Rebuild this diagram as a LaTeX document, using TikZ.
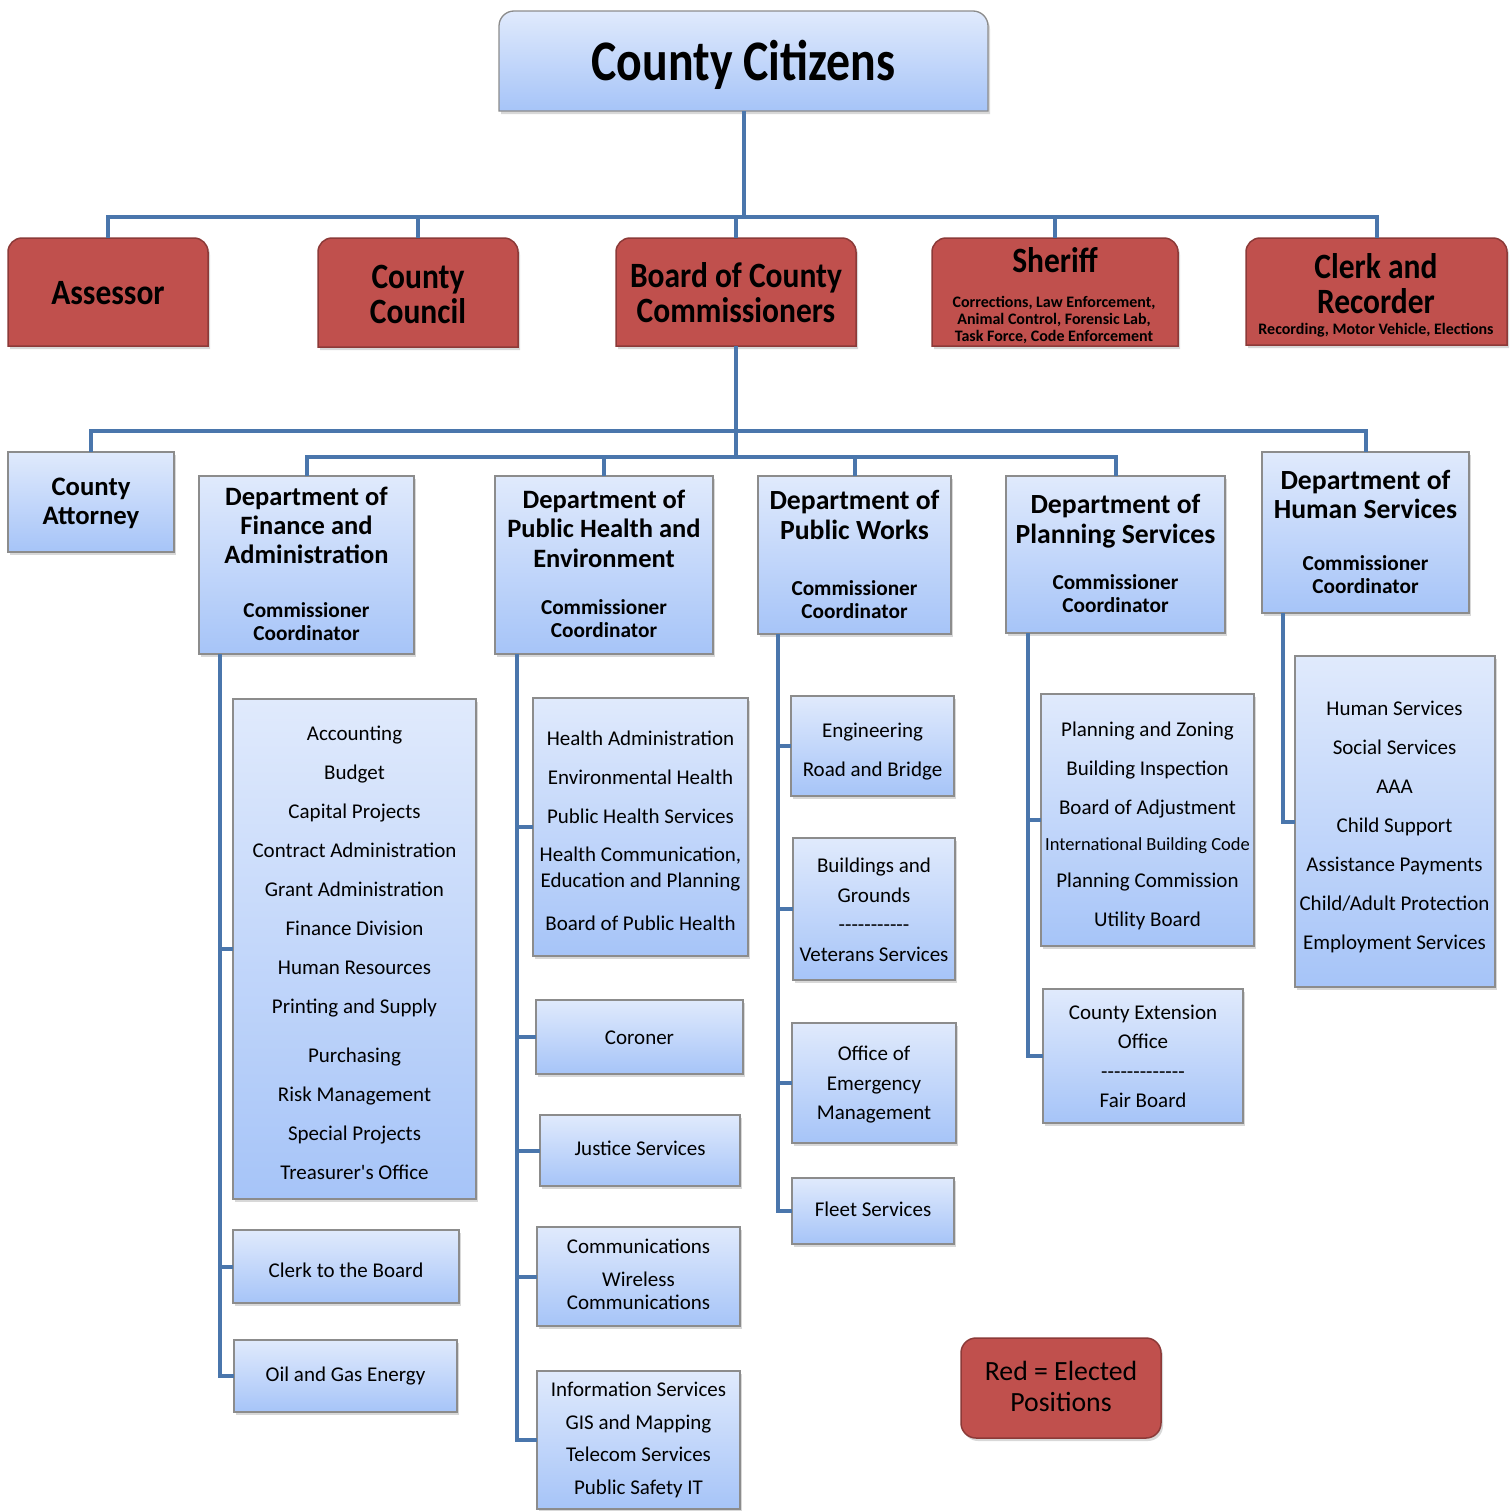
\documentclass[tikz,border=0pt]{standalone}
\usepackage{fontspec}
\usepackage{graphicx}
\setmainfont{Carlito}
\usetikzlibrary{shadows}
\definecolor{btop}{HTML}{E0EAFC}
\definecolor{bbot}{HTML}{A6C4F8}
\definecolor{bline}{HTML}{8C8C8C}
\definecolor{rfill}{HTML}{C0504D}
\definecolor{rline}{HTML}{8C3A38}
\definecolor{conncol}{HTML}{4A76AC}
\tikzset{
  shad/.style={drop shadow={opacity=0.3, shadow xshift=2pt, shadow yshift=-3pt}},
  bluebox/.style={rectangle, inner sep=0pt, outer sep=0pt, draw=bline, line width=1.3pt, top color=btop, bottom color=bbot, shad},
  ghost/.style={rectangle, inner sep=0pt, outer sep=0pt},
  redpath/.style={fill=rfill, draw=rline, line width=1.5pt, shad},
  bluepath/.style={draw=bline, line width=1.3pt, top color=btop, bottom color=bbot, shad},
  legendbox/.style={rectangle, rounded corners=15pt, inner sep=0pt, outer sep=0pt, fill=rfill, draw=rline, line width=1.5pt, shad},
  conn/.style={draw=conncol, line width=4pt}
}
% box: style, name, x1, y1, x2, y2
\newcommand\bx[6]{\node[#1, minimum width={#5pt-#3pt}, minimum height={#6pt-#4pt}] (#2) at ({(#3+#5)/2},{(#4+#6)/2}) {};}
% text: name, x, first baseline, size, skip, extra font, text
\newcommand\tx[7]{\node[anchor=north, inner sep=0pt, outer sep=0pt, align=center, font={\fontsize{#4}{#5}\selectfont\lineskiplimit=-100pt #6}] (#1) at (#2,{#3-1.2*#4}) {\rule{0pt}{1.2em}#7};}
\newcommand\topround[3]{\path[#2] (#1.south west) -- ([yshift=-#3]#1.north west) arc[start angle=180,end angle=90,radius=#3] -- ([xshift=-#3]#1.north east) arc[start angle=90,end angle=0,radius=#3] -- (#1.south east) -- cycle;}
\newcommand\st[1]{\scalebox{1}[1.13]{#1}}
\newcommand\hy{-{}}
\begin{document}
\begin{tikzpicture}[x=1pt,y=-1pt]
\fill[white] (0,0) rectangle (1512,1510);
\useasboundingbox (0,0) rectangle (1512,1510);

% ---------- boxes ----------
\bx{ghost}{cit}{499}{11}{988}{111}
\topround{cit}{bluepath}{15pt}
\bx{ghost}{ass}{8}{238}{208}{346}
\bx{ghost}{cc}{318}{238}{518}{347}
\bx{ghost}{bcc}{616}{238}{856}{346}
\bx{ghost}{sh}{932}{238}{1178}{346}
\bx{ghost}{clk}{1246}{238}{1507}{345}
\foreach \n in {ass,cc,bcc,sh,clk}{\topround{\n}{redpath}{14pt}}

\bx{bluebox}{att}{8}{452}{174}{552}
\bx{bluebox}{fin}{199}{476}{414}{654}
\bx{bluebox}{ph}{495}{476}{713}{654}
\bx{bluebox}{pw}{758}{476}{951}{634}
\bx{bluebox}{pl}{1006}{476}{1225}{633}
\bx{bluebox}{hs}{1262}{452}{1469}{613}

\bx{bluebox}{fin1}{233}{699}{476}{1199}
\bx{bluebox}{fin2}{233}{1230}{459}{1303}
\bx{bluebox}{fin3}{234}{1340}{457}{1412}
\bx{bluebox}{ph1}{533}{698}{748}{956}
\bx{bluebox}{ph2}{536}{1000}{743}{1074}
\bx{bluebox}{ph3}{540}{1115}{740}{1186}
\bx{bluebox}{ph4}{537}{1227}{740}{1326}
\bx{bluebox}{ph5}{537}{1371}{740}{1509}
\bx{bluebox}{pw1}{791}{696}{954}{796}
\bx{bluebox}{pw2}{793}{838}{955}{980}
\bx{bluebox}{pw3}{792}{1023}{956}{1143}
\bx{bluebox}{pw4}{792}{1178}{954}{1244}
\bx{bluebox}{pl1}{1041}{694}{1254}{946}
\bx{bluebox}{pl2}{1043}{989}{1243}{1123}
\bx{bluebox}{hs1}{1295}{656}{1495}{987}
\bx{legendbox}{leg}{961}{1338}{1161}{1438}

% ---------- connectors ----------
\coordinate (b1) at (743,217);
\coordinate (b2) at (736,431);
\coordinate (b3) at (736,457);
\draw[conn] (cit.south) -- (cit.south |- b1);
\draw[conn] (ass.north) -- (ass.north |- b1) -- (clk.north |- b1) -- (clk.north);
\foreach \n in {cc,bcc,sh}{\draw[conn] (\n.north) -- (\n.north |- b1);}
\draw[conn] (bcc.south) -- (bcc.south |- b3);
\draw[conn] (att.north) -- (att.north |- b2) -- (hs.north |- b2) -- (hs.north);
\draw[conn] (fin.north) -- (fin.north |- b3) -- (pl.north |- b3) -- (pl.north);
\foreach \n in {ph,pw}{\draw[conn] (\n.north) -- (\n.north |- b3);}

\coordinate (fv) at ([xshift=21pt]fin.south west);
\draw[conn] (fv) |- (fin3.west);
\foreach \n in {fin1,fin2}{\draw[conn] (fv |- \n.west) -- (\n.west);}
\coordinate (pv) at ([xshift=22pt]ph.south west);
\draw[conn] (pv) |- (ph5.west);
\foreach \n in {ph1,ph2,ph3,ph4}{\draw[conn] (pv |- \n.west) -- (\n.west);}
\coordinate (wv) at ([xshift=20pt]pw.south west);
\draw[conn] (wv) |- (pw4.west);
\foreach \n in {pw1,pw2,pw3}{\draw[conn] (wv |- \n.west) -- (\n.west);}
\coordinate (lv) at ([xshift=22pt]pl.south west);
\draw[conn] (lv) |- (pl2.west);
\draw[conn] (lv |- pl1.west) -- (pl1.west);
\coordinate (hv) at ([xshift=21pt]hs.south west);
\draw[conn] (hv) |- (hs1.west);

% ---------- texts ----------
\tx{t-cit}{743.5}{80}{47.8}{50}{\bfseries}{\scalebox{1}[1.2]{County Citizens}}
\tx{t-ass}{108}{304}{31.5}{35}{\bfseries}{\st{Assessor}}
\tx{t-cc}{418}{288}{31.5}{35}{\bfseries}{\st{County}\\\st{Council}}
\tx{t-bcc}{736}{287}{31.5}{35}{\bfseries}{\st{Board of County}\\\st{Commissioners}}
\tx{t-sh}{1055}{272}{31.5}{35}{\bfseries}{\st{Sheriff}}
\tx{t-sh2}{1054}{307}{16}{17}{\bfseries}{Corrections, Law Enforcement,\\Animal Control, Forensic Lab,\\Task Force, Code Enforcement}
\tx{t-clk}{1376}{278}{31.5}{35}{\bfseries}{\st{Clerk and}\\\st{Recorder}}
\tx{t-clk2}{1376}{334}{16}{17}{\bfseries}{Recording, Motor Vehicle, Elections}

\tx{t-att}{91}{495}{26.7}{29}{\bfseries}{County\\Attorney}
\tx{t-fin}{306.5}{505}{26.5}{29}{\bfseries}{Department of\\Finance and\\Administration}
\tx{t-fin-s}{306.5}{617.5}{21.3}{23}{\bfseries}{Commissioner\\Coordinator}
\tx{t-ph}{604}{508}{26.5}{29.5}{\bfseries}{Department of\\Public Health and\\Environment}
\tx{t-ph-s}{604}{614}{21.3}{23}{\bfseries}{Commissioner\\Coordinator}
\tx{t-pw}{854.5}{509}{27.7}{30}{\bfseries}{Department of\\Public Works}
\tx{t-pw-s}{854.5}{595}{21.3}{23}{\bfseries}{Commissioner\\Coordinator}
\tx{t-pl}{1115.5}{513}{27.7}{30}{\bfseries}{Department of\\Planning Services}
\tx{t-pl-s}{1115.5}{589}{21.3}{23}{\bfseries}{Commissioner\\Coordinator}
\tx{t-hs}{1365.5}{489}{27.7}{29}{\bfseries}{Department of\\Human Services}
\tx{t-hs-s}{1365.5}{570}{21.3}{23}{\bfseries}{Commissioner\\Coordinator}

\tx{t-fin1}{354.5}{740.5}{21}{39}{}{Accounting\\Budget\\Capital Projects\\Contract Administration\\Grant Administration\\Finance Division\\Human Resources\\Printing and Supply\\[10pt]Purchasing\\Risk Management\\Special Projects\\Treasurer\textquotesingle s Office}
\tx{t-fin2}{346}{1277.5}{21}{39}{}{Clerk to the Board}
\tx{t-fin3}{345.5}{1381.5}{21}{39}{}{Oil and Gas Energy}

\tx{t-ph1}{640.5}{745.5}{21}{39}{}{Health Administration\\Environmental Health\\Public Health Services\\[-1pt]Health Communication,\\[-13pt]Education and Planning\\[4pt]Board of Public Health}
\tx{t-ph2}{639.5}{1044.5}{21}{39}{}{Coroner}
\tx{t-ph3}{640}{1155.5}{21}{39}{}{Justice Services}
\tx{t-ph4}{638.5}{1253.5}{21}{33}{}{Communications\\Wireless\\[-10pt]Communications}
\tx{t-ph5}{638.5}{1396.5}{21}{32.7}{}{Information Services\\GIS and Mapping\\Telecom Services\\Public Safety IT}

\tx{t-pw1}{872.5}{737.5}{21}{39}{}{Engineering\\Road and Bridge}
\tx{t-pw2}{874}{872.5}{21}{29.6}{}{Buildings and\\Grounds\\\hy\hy\hy\hy\hy\hy\hy\hy\hy\hy\hy\\Veterans Services}
\tx{t-pw3}{874}{1060.5}{21}{29.5}{}{Office of\\Emergency\\Management}
\tx{t-pw4}{873}{1216.5}{21}{39}{}{Fleet Services}

\tx{t-pl1}{1147.5}{736.5}{21}{39}{}{Planning and Zoning\\Building Inspection\\Board of Adjustment\\[-3.5pt]{\fontsize{18.5}{20}\selectfont International Building Code}\\[-1.5pt]Planning Commission\\Utility Board}
\tx{t-pl2}{1143}{1019.5}{21}{29.3}{}{County Extension\\Office\\\hy\hy\hy\hy\hy\hy\hy\hy\hy\hy\hy\hy\hy\\Fair Board}

\tx{t-hs1}{1394.5}{715.5}{21}{39}{}{Human Services\\Social Services\\AAA\\Child Support\\Assistance Payments\\Child/Adult Protection\\Employment Services}

\tx{t-leg}{1061}{1380}{27.8}{31}{}{Red = Elected\\Positions}
\end{tikzpicture}
\end{document}
